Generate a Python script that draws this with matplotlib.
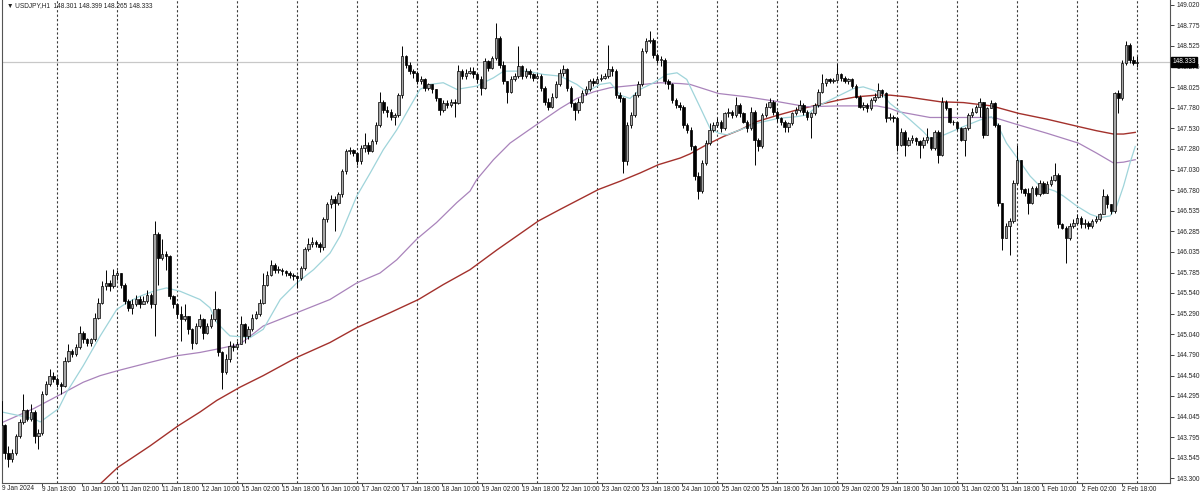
import numpy as np
import matplotlib
matplotlib.use("Agg")
import matplotlib.pyplot as plt
import matplotlib.transforms as mtransforms

plt.rcParams["font.family"] = ["Liberation Sans", "DejaVu Sans"]

# ---------------------------------------------------------------------------
# Data (USDJPY H1).  One entry per candle slot; the slot
# sits at hour index 1.5 + 1.5 * i on an H1 axis starting 9 Jan 00:00.
# ---------------------------------------------------------------------------
first_open = 144.23

closes = [
    143.94, 143.61, 143.53, 143.61, 143.81, 143.98, 144.12, 144.02, 144.10, 143.81,
    143.85, 144.32, 144.44, 144.54, 144.50, 144.44, 144.42, 144.72, 144.84, 144.80,
    144.88, 145.06, 144.98, 144.94, 144.98, 145.24, 145.42, 145.62, 145.66, 145.62,
    145.76, 145.78, 145.64, 145.44, 145.36, 145.40, 145.46, 145.40, 145.44, 145.52,
    145.40, 146.25, 145.96, 146.01, 145.99, 145.50, 145.40, 145.28, 145.22, 145.26,
    145.10, 144.94, 145.14, 145.22, 145.06, 145.14, 145.22, 145.34, 144.82, 144.58,
    144.74, 144.90, 144.88, 144.92,
    145.16, 145.02, 145.10, 145.24, 145.28, 145.42, 145.64, 145.76, 145.88, 145.82,
    145.82, 145.80, 145.78, 145.76, 145.74, 145.72, 145.84, 146.07, 146.13, 146.15,
    146.13, 146.09, 146.43, 146.61, 146.67, 146.63, 146.73, 147.01, 147.25, 147.27,
    147.23, 147.13, 147.29, 147.33, 147.25, 147.37, 147.57, 147.85, 147.75, 147.73,
    147.67, 147.69, 147.93, 148.40, 148.30, 148.22, 148.20, 148.10, 148.12, 148.02,
    148.06, 148.00, 147.89, 147.75, 147.83, 147.81, 147.85, 147.83, 148.22, 148.16,
    148.20,
    148.22, 148.18, 148.12, 148.02, 148.34, 148.26, 148.38, 148.62, 148.30, 148.10,
    147.97, 148.12, 148.16, 148.28, 148.16, 148.22, 148.18, 148.14, 148.16, 148.02,
    147.85, 147.79, 147.91, 148.06, 148.20, 148.24, 148.02, 147.83, 147.75, 147.85,
    147.95, 148.00, 148.10, 148.08, 148.12, 148.14, 148.16, 148.24, 148.22, 147.93,
    147.89, 147.13, 147.57, 147.69, 147.93, 148.06, 148.46, 148.58, 148.60, 148.42,
    148.36, 148.36, 148.10, 148.06, 147.87, 147.81, 147.79, 147.57, 147.51, 147.31,
    146.95, 146.77,
    147.11, 147.35, 147.51, 147.57, 147.61, 147.53, 147.71, 147.73, 147.69, 147.81,
    147.71, 147.61, 147.53, 147.73, 147.39, 147.31, 147.69, 147.79, 147.85, 147.73,
    147.65, 147.61, 147.55, 147.59, 147.71, 147.75, 147.81, 147.73, 147.67, 147.71,
    147.81, 147.97, 148.08, 148.12, 148.10, 148.11, 148.18, 148.14, 148.10, 148.12,
    148.04, 147.91, 147.79, 147.81, 147.77, 147.87, 147.91, 147.99, 147.95, 147.65,
    147.67, 147.65, 147.33, 147.49, 147.33, 147.39, 147.41, 147.37, 147.33, 147.39,
    147.43, 147.29, 147.49, 147.21,
    147.85, 147.77, 147.61, 147.60, 147.53, 147.39, 147.53, 147.69, 147.73, 147.79,
    147.85, 147.45, 147.77, 147.83, 147.57, 146.63, 146.20, 146.35, 146.41, 146.87,
    147.15, 146.79, 146.75, 146.63, 146.81, 146.73, 146.87, 146.75, 146.85, 146.91,
    146.97, 146.37, 146.33, 146.20, 146.35, 146.39, 146.45, 146.37, 146.39, 146.35,
    146.41, 146.43, 146.49, 146.71, 146.61, 146.53, 147.95, 147.89, 148.32, 148.54,
    148.36, 148.32, 148.333,
]

highs = [
    144.27, 143.96, 143.69, 143.65, 143.84, 144.02, 144.32, 144.14, 144.20, 144.12,
    143.90, 144.36, 144.48, 144.62, 144.58, 144.52, 144.46, 144.76, 144.92, 144.86,
    144.92, 145.14, 145.08, 145.00, 145.00, 145.30, 145.48, 145.68, 145.82, 145.70,
    145.83, 145.82, 145.78, 145.66, 145.46, 145.46, 145.52, 145.50, 145.50, 145.58,
    145.54, 146.41, 146.27, 146.19, 146.05, 146.00, 145.52, 145.42, 145.38, 145.40,
    145.24, 145.12, 145.18, 145.28, 145.24, 145.18, 145.28, 145.56, 145.36, 144.84,
    144.80, 144.96, 144.94, 144.96,
    145.26, 145.18, 145.14, 145.28, 145.32, 145.46, 145.78, 145.80, 145.94, 145.90,
    145.86, 145.84, 145.82, 145.80, 145.78, 145.76, 145.86, 146.10, 146.20, 146.22,
    146.18, 146.16, 146.46, 146.64, 146.72, 146.71, 146.76, 147.04, 147.28, 147.30,
    147.28, 147.24, 147.33, 147.47, 147.36, 147.40, 147.60, 147.97, 147.87, 147.80,
    147.76, 147.72, 147.96, 148.52, 148.42, 148.33, 148.24, 148.22, 148.16, 148.14,
    148.08, 148.06, 148.01, 147.90, 147.87, 147.87, 147.88, 147.88, 148.30, 148.24,
    148.24,
    148.27, 148.27, 148.20, 148.16, 148.38, 148.36, 148.40, 148.80, 148.64, 148.34,
    148.10, 148.16, 148.20, 148.53, 148.30, 148.26, 148.24, 148.20, 148.20, 148.18,
    148.04, 147.90, 147.95, 148.10, 148.24, 148.30, 148.26, 148.04, 147.85, 147.89,
    147.99, 148.04, 148.12, 148.14, 148.16, 148.18, 148.20, 148.54, 148.28, 148.24,
    147.97, 147.91, 147.61, 147.73, 147.97, 148.10, 148.50, 148.62, 148.70, 148.62,
    148.44, 148.40, 148.38, 148.12, 148.08, 147.89, 147.85, 147.81, 147.59, 147.55,
    147.33, 147.00,
    147.15, 147.39, 147.59, 147.61, 147.65, 147.63, 147.73, 147.77, 147.75, 147.91,
    147.83, 147.73, 147.63, 147.79, 147.75, 147.41, 147.71, 147.83, 147.89, 147.87,
    147.75, 147.67, 147.63, 147.61, 147.73, 147.79, 147.87, 147.83, 147.75, 147.73,
    147.83, 148.00, 148.18, 148.14, 148.14, 148.14, 148.32, 148.20, 148.16, 148.14,
    148.14, 148.06, 147.93, 147.85, 147.83, 147.89, 147.95, 148.08, 148.01, 147.97,
    147.71, 147.69, 147.67, 147.53, 147.51, 147.43, 147.45, 147.43, 147.39, 147.43,
    147.53, 147.43, 147.51, 147.51,
    147.91, 147.87, 147.77, 147.63, 147.61, 147.55, 147.55, 147.71, 147.77, 147.81,
    147.89, 147.67, 147.79, 147.87, 147.85, 147.59, 146.63, 146.39, 146.45, 146.91,
    147.33, 147.15, 146.81, 146.81, 146.83, 146.83, 146.91, 146.89, 146.89, 146.95,
    147.11, 146.99, 146.39, 146.35, 146.39, 146.43, 146.49, 146.47, 146.43, 146.41,
    146.43, 146.47, 146.51, 146.79, 146.73, 146.61, 147.97, 147.99, 148.36, 148.58,
    148.56, 148.40, 148.399,
]

lows = [
    143.85, 143.53, 143.43, 143.50, 143.58, 143.78, 143.96, 143.99, 143.99, 143.73,
    143.65, 143.82, 144.30, 144.42, 144.46, 144.40, 144.32, 144.40, 144.70, 144.76,
    144.78, 144.86, 144.94, 144.90, 144.90, 144.96, 145.22, 145.40, 145.58, 145.56,
    145.60, 145.70, 145.60, 145.40, 145.32, 145.28, 145.38, 145.36, 145.40, 145.42,
    145.36, 145.02, 145.64, 145.94, 145.82, 145.46, 145.36, 145.24, 144.96, 145.20,
    145.04, 144.86, 144.92, 145.12, 144.98, 145.04, 145.12, 145.20, 144.78, 144.38,
    144.56, 144.70, 144.84, 144.86,
    144.98, 144.94, 144.98, 145.08, 145.22, 145.26, 145.40, 145.62, 145.74, 145.78,
    145.78, 145.76, 145.74, 145.72, 145.70, 145.60, 145.70, 145.82, 146.05, 146.10,
    146.09, 146.04, 146.06, 146.40, 146.56, 146.29, 146.60, 146.70, 146.98, 147.22,
    147.20, 147.09, 147.10, 147.24, 147.22, 147.24, 147.34, 147.55, 147.72, 147.67,
    147.63, 147.57, 147.66, 147.90, 148.26, 148.18, 148.14, 148.06, 148.06, 147.98,
    147.99, 147.95, 147.86, 147.69, 147.73, 147.78, 147.79, 147.67, 147.82, 148.12,
    148.12,
    148.18, 148.14, 148.08, 147.93, 148.00, 148.22, 148.24, 148.36, 148.26, 148.06,
    147.83, 147.95, 148.10, 148.14, 148.12, 148.14, 148.14, 148.10, 148.12, 147.98,
    147.81, 147.75, 147.77, 147.89, 148.04, 148.16, 147.98, 147.79, 147.63, 147.71,
    147.83, 147.93, 147.98, 148.04, 148.06, 148.10, 148.12, 148.14, 148.16, 147.89,
    147.85, 146.99, 147.09, 147.53, 147.67, 147.91, 148.04, 148.44, 148.56, 148.38,
    148.32, 148.28, 148.06, 148.00, 147.83, 147.77, 147.75, 147.53, 147.47, 147.27,
    146.91, 146.67,
    146.75, 147.09, 147.33, 147.49, 147.55, 147.49, 147.51, 147.67, 147.65, 147.67,
    147.67, 147.59, 147.49, 147.51, 147.09, 147.25, 147.29, 147.67, 147.77, 147.69,
    147.61, 147.57, 147.49, 147.49, 147.57, 147.69, 147.73, 147.69, 147.63, 147.41,
    147.69, 147.79, 147.95, 148.04, 148.08, 148.08, 148.10, 148.10, 148.08, 148.06,
    148.02, 147.89, 147.77, 147.75, 147.73, 147.75, 147.85, 147.89, 147.91, 147.61,
    147.63, 147.61, 147.25, 147.31, 147.19, 147.31, 147.35, 147.33, 147.17, 147.29,
    147.35, 147.27, 147.27, 147.11,
    147.19, 147.75, 147.59, 147.57, 147.51, 147.37, 147.19, 147.51, 147.67, 147.71,
    147.67, 147.41, 147.45, 147.77, 147.55, 146.59, 146.06, 146.20, 146.00, 146.39,
    146.85, 146.75, 146.71, 146.49, 146.61, 146.71, 146.71, 146.73, 146.75, 146.83,
    146.89, 146.33, 146.31, 145.90, 146.18, 146.33, 146.37, 146.33, 146.33, 146.31,
    146.33, 146.39, 146.41, 146.49, 146.57, 146.49, 146.51, 147.71, 147.87, 148.30,
    148.32, 148.30, 148.265,
]

# moving averages sampled along the drawn lines (hour index, price)
ma_fast_x = [2.0, 14.6, 17.3, 24.6, 27.9, 34.5, 41.3, 47.9, 51.9, 57.2, 62.6, 67.8,
             73.2, 81.2, 85.2, 87.9, 91.8, 93.2, 101.3, 106.5, 113.3, 119.9, 126.6,
             133.2, 137.3, 143.9, 149.3, 154.5, 159.9, 165.2, 169.2, 173.3, 178.5,
             183.9, 191.9, 198.6, 202.7, 212.0, 218.6, 225.3, 231.9, 235.9, 241.2,
             245.3, 249.3, 253.2, 257.3, 262.7, 267.9, 272.0, 275.9, 278.6, 281.3,
             285.2, 288.6, 291.9, 297.2, 303.9, 312.6, 319.8, 323.9, 327.9, 333.2,
             337.2, 342.6, 346.5, 350.6, 353.9, 357.2, 360.6, 365.3, 370.5, 373.2,
             377.3, 386.6, 393.2, 397.8, 399.9, 403.8, 408.6, 413.3, 417.2, 423.2,
             426.6, 431.9, 437.3, 441.2, 445.2, 447.9, 450.6, 453.2, 455.3]
ma_fast_y = [144.10, 144.02, 143.98, 144.14, 144.34, 144.66, 145.02, 145.34, 145.42,
             145.50, 145.56, 145.60, 145.56, 145.46, 145.36, 145.18, 145.06, 145.02,
             145.00, 145.10, 145.46, 145.66, 145.82, 146.02, 146.23, 146.71, 146.99,
             147.27, 147.51, 147.79, 148.00, 148.06, 148.08, 148.00, 148.04, 148.14,
             148.22, 148.22, 148.18, 148.16, 148.06, 147.97, 148.06, 148.08, 147.93,
             147.89, 148.00, 148.08, 148.18, 148.20, 148.12, 147.95, 147.78, 147.53,
             147.47, 147.45, 147.51, 147.59, 147.65, 147.67, 147.69, 147.79, 147.87,
             147.93, 148.01, 148.03, 147.99, 147.95, 147.83, 147.75, 147.63, 147.49,
             147.40, 147.43, 147.55, 147.63, 147.67, 147.59, 147.35, 147.15, 146.95,
             146.83, 146.77, 146.71, 146.59, 146.49, 146.45, 146.47, 146.59, 146.83,
             147.11, 147.31]

ma_mid_x = [2.6, 14.6, 24.6, 34.5, 41.3, 48.3, 61.2, 71.9, 81.2, 87.9, 97.2, 106.5,
            119.9, 133.2, 143.9, 153.2, 159.9, 167.9, 175.8, 183.9, 189.2, 191.9,
            198.6, 205.2, 216.6, 225.3, 231.9, 238.7, 245.3, 251.9, 258.6, 265.2,
            273.3, 277.2, 288.6, 299.9, 312.6, 323.9, 336.6, 351.9, 357.2, 360.6,
            367.8, 373.2, 386.6, 397.8, 399.9, 408.6, 419.9, 432.6, 439.8, 446.6,
            450.6, 455.3]
ma_mid_y = [143.98, 144.14, 144.30, 144.46, 144.54, 144.60, 144.70, 144.78, 144.82,
            144.86, 144.92, 145.14, 145.30, 145.46, 145.66, 145.78, 145.94, 146.19,
            146.39, 146.63, 146.77, 146.91, 147.15, 147.35, 147.59, 147.77, 147.89,
            147.97, 148.02, 148.04, 148.06, 148.08, 148.07, 148.06, 147.95, 147.91,
            147.85, 147.79, 147.80, 147.80, 147.77, 147.73, 147.69, 147.66, 147.66,
            147.66, 147.65, 147.57, 147.47, 147.35, 147.23, 147.11, 147.12, 147.15]

ma_slow_x = [41.6, 48.3, 61.2, 72.3, 81.2, 87.9, 97.2, 106.5, 119.9, 133.2, 143.9,
             157.2, 168.6, 178.5, 189.2, 200.0, 216.6, 225.3, 240.6, 249.3, 257.3,
             264.6, 273.3, 277.2, 283.8, 290.6, 297.2, 303.9, 312.6, 319.8, 327.9,
             336.6, 343.8, 351.9, 357.2, 363.9, 370.5, 377.3, 386.6, 397.8, 408.6,
             419.9, 432.6, 439.8, 446.6, 450.6, 455.3]
ma_slow_y = [143.24, 143.43, 143.69, 143.93, 144.10, 144.24, 144.40, 144.54, 144.76,
             144.94, 145.12, 145.30, 145.46, 145.64, 145.82, 146.06, 146.41, 146.55,
             146.79, 146.89, 146.99, 147.09, 147.17, 147.22, 147.33, 147.43, 147.51,
             147.61, 147.69, 147.75, 147.81, 147.87, 147.91, 147.93, 147.93, 147.91,
             147.88, 147.85, 147.84, 147.80, 147.71, 147.64, 147.55, 147.50, 147.46,
             147.46, 147.48]

time_labels = ["9 Jan 18:00", "10 Jan 10:00", "11 Jan 02:00", "11 Jan 18:00",
               "12 Jan 10:00", "15 Jan 02:00", "15 Jan 18:00", "16 Jan 10:00",
               "17 Jan 02:00", "17 Jan 18:00", "18 Jan 10:00", "19 Jan 02:00",
               "19 Jan 18:00", "22 Jan 10:00", "23 Jan 02:00", "23 Jan 18:00",
               "24 Jan 10:00", "25 Jan 02:00", "25 Jan 18:00", "26 Jan 10:00",
               "29 Jan 02:00", "29 Jan 18:00", "30 Jan 10:00", "31 Jan 02:00",
               "31 Jan 18:00", "1 Feb 10:00", "2 Feb 02:00", "2 Feb 18:00"]
price_ticks = [149.020, 148.775, 148.525, 148.275, 148.025, 147.780, 147.530,
               147.280, 147.030, 146.780, 146.535, 146.285, 146.035, 145.785,
               145.540, 145.290, 145.040, 144.790, 144.540, 144.295, 144.045,
               143.795, 143.545, 143.300]
last_price = 148.333
header = "USDJPY,H1  148.301 148.399 148.265 148.333"

# ---------------------------------------------------------------------------
closes = np.array(closes)
opens = np.concatenate([[first_open], closes[:-1]])
highs = np.maximum(np.array(highs), np.maximum(opens, closes))
lows = np.minimum(np.array(lows), np.minimum(opens, closes))
xs = 1.5 + 1.5 * np.arange(len(closes))

FS = 4.7
TXT = "#222222"

fig = plt.figure(figsize=(12, 4.92), dpi=100)
ax = fig.add_axes([2 / 1200, 9 / 492, 1168 / 1200, 483 / 492])

# day separators
for xg in np.arange(24, 457, 24):
    ax.axvline(xg, color="#3a3a3a", linestyle=(0, (2, 2)), linewidth=0.8, zorder=1)

ax.axhline(last_price, color="#c8c8c8", linewidth=0.9, zorder=1)

ax.plot(ma_slow_x, ma_slow_y, color="#a3312c", linewidth=1.0, zorder=2)
ax.plot(ma_mid_x, ma_mid_y, color="#a983bb", linewidth=0.9, zorder=2)
ax.plot(ma_fast_x, ma_fast_y, color="#9fd4da", linewidth=0.9, zorder=2)

up = closes >= opens
ax.vlines(xs, lows, highs, color="black", linewidth=0.7, zorder=3)
body_h = np.maximum(np.abs(closes - opens), 0.006)
body_b = np.minimum(opens, closes)
ax.bar(xs[up], body_h[up], bottom=body_b[up], width=1.0, color="#a6a6a6",
       edgecolor="black", linewidth=0.5, zorder=4)
ax.bar(xs[~up], body_h[~up], bottom=body_b[~up], width=1.0, color="black",
       edgecolor="black", linewidth=0.5, zorder=4)

ax.set_xlim(2.0, 469.2)
ax.set_ylim(143.242, 149.080)

ax.yaxis.tick_right()
ax.set_yticks(price_ticks)
ax.set_yticklabels([f"{v:.3f}" for v in price_ticks])
ax.tick_params(axis="y", direction="out", length=3, width=0.6, pad=1.5,
               labelsize=FS, colors=TXT)

tick_pos = [18 + 16 * k for k in range(len(time_labels))]
ax.set_xticks(tick_pos)
ax.set_xticklabels(time_labels, ha="left")
ax.tick_params(axis="x", direction="out", length=2, width=0.6, pad=0.5,
               labelsize=FS, colors=TXT)
ax.text(2.0, -0.005, "9 Jan 2024",
        transform=mtransforms.blended_transform_factory(ax.transData, ax.transAxes),
        ha="left", va="top", fontsize=FS, color=TXT)

for side in ("left", "right", "bottom"):
    ax.spines[side].set_color("#555555")
    ax.spines[side].set_linewidth(0.8)
ax.spines["top"].set_visible(False)

# current price box on the scale
ax.text(1.002, last_price, f"{last_price:.3f}",
        transform=mtransforms.blended_transform_factory(ax.transAxes, ax.transData),
        ha="left", va="center", fontsize=FS, color="white", zorder=10,
        clip_on=False,
        bbox=dict(boxstyle="square,pad=0.2", facecolor="black", edgecolor="black"))

ax.text(0.004, 0.996, "\u25bc " + header, transform=ax.transAxes, ha="left",
        va="top", fontsize=FS, color=TXT)

fig.savefig("out.png", dpi=100, facecolor="white")
